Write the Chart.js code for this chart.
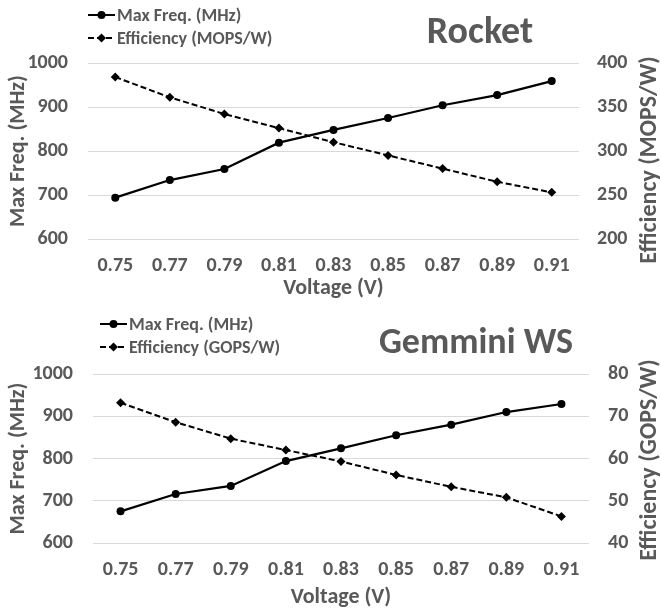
<!DOCTYPE html>
<html lang="en">
<head>
<meta charset="UTF-8">
<title>Rocket / Gemmini WS</title>
<script src="https://cdn.jsdelivr.net/npm/chart.js"></script>
<style>
  body { margin: 0; background: #fff; }
  .panel { position: relative; width: 661px; }
</style>
</head>
<body>
<div class="panel" style="height:305px"><canvas id="rocket"></canvas></div>
<div class="panel" style="height:306px"><canvas id="gemmini"></canvas></div>
<script>
// data
const voltages = ['0.75', '0.77', '0.79', '0.81', '0.83', '0.85', '0.87', '0.89', '0.91'];
const rocketFreq = [694, 734, 759, 819, 848, 875, 904, 927, 959];
const rocketEff = [384, 361, 342, 326, 310, 295, 280, 265, 253];
const gemminiFreq = [675, 716, 735, 794, 824, 855, 880, 910, 929];
const gemminiEff = [73.2, 68.6, 64.7, 62.0, 59.3, 56.1, 53.3, 50.8, 46.3];

const FONT = "Carlito, 'Liberation Sans Narrow', 'DejaVu Sans Condensed', sans-serif";
const GREY = '#595959';

Chart.defaults.font.family = FONT;
Chart.defaults.font.weight = 'bold';
Chart.defaults.color = GREY;

function marker(ctx, style, x, y, r) {
    ctx.beginPath();
    if (style === 'rectRot') {
        ctx.moveTo(x, y - r); ctx.lineTo(x + r, y); ctx.lineTo(x, y + r); ctx.lineTo(x - r, y);
        ctx.closePath();
    } else {
        ctx.arc(x, y, r, 0, Math.PI * 2);
    }
    ctx.fill();
}

// legend stacked on the left, panel name on the right, and the right axis title
// (Chart.js turns a right-hand title the other way round)
const panelDecor = {
    id: 'panelDecor',
    afterDraw(chart, args, opts) {
        const ctx = chart.ctx;
        ctx.save();
        chart.data.datasets.forEach((ds, i) => {
            const y = opts.legendY + i * 23;
            const x0 = opts.legendX, x1 = opts.legendX + 27;
            ctx.strokeStyle = '#000';
            ctx.fillStyle = '#000';
            ctx.lineWidth = 2;
            ctx.setLineDash(ds.borderDash || []);
            ctx.beginPath(); ctx.moveTo(x0, y); ctx.lineTo(x1, y); ctx.stroke();
            ctx.setLineDash([]);
            marker(ctx, ds.pointStyle, (x0 + x1) / 2, y, ds.pointRadius);
            ctx.fillStyle = GREY;
            ctx.font = 'bold 18px ' + FONT;
            ctx.textAlign = 'left';
            ctx.textBaseline = 'middle';
            ctx.fillText(ds.label, x1 + 2, y + 1);
        });
        ctx.font = 'bold ' + opts.titleSize + 'px ' + FONT;
        ctx.fillStyle = GREY;
        ctx.textAlign = 'center';
        ctx.textBaseline = 'middle';
        ctx.fillText(opts.title, opts.titleX, opts.titleY);

        ctx.translate(opts.rightTitleX, opts.rightTitleY);
        ctx.rotate(-Math.PI / 2);
        ctx.font = 'bold 24px ' + FONT;
        ctx.fillText(chart.data.datasets[1].label, 0, 0);
        ctx.restore();
    }
};

function makeChart(id, freq, eff, effLabel, effMin, effMax, effStep, lay) {
    new Chart(document.getElementById(id), {
        type: 'line',
        data: {
            labels: voltages,
            datasets: [{
                label: 'Max Freq. (MHz)',
                data: freq,
                yAxisID: 'y',
                borderColor: '#000',
                backgroundColor: '#000',
                borderWidth: 2.25,
                pointStyle: 'circle',
                pointRadius: 4,
                pointBorderWidth: 0,
                tension: 0
            }, {
                label: effLabel,
                data: eff,
                yAxisID: 'y1',
                borderColor: '#000',
                backgroundColor: '#000',
                borderWidth: 2,
                borderDash: [6, 3],
                pointStyle: 'rectRot',
                pointRadius: 4.5,
                pointBorderWidth: 0,
                tension: 0
            }]
        },
        plugins: [panelDecor],
        options: {
            responsive: true,
            maintainAspectRatio: false,
            animation: false,
            layout: { padding: { top: lay.top, left: 0, right: 0, bottom: 0 } },
            plugins: {
                legend: { display: false },
                tooltip: { enabled: false },
                panelDecor: lay.decor
            },
            scales: {
                x: {
                    offset: true,
                    grid: { display: false },
                    border: { display: false },
                    ticks: { font: { size: 20 }, padding: lay.tickPad, maxRotation: 0 },
                    title: { display: true, text: 'Voltage (V)', font: { size: 22, lineHeight: 1.2 }, padding: { top: 0, bottom: lay.titlePad } },
                    afterFit: s => { s.height = lay.xH; }
                },
                y: {
                    position: 'left',
                    min: 600, max: 1000,
                    ticks: { stepSize: 100, font: { size: 20 }, padding: 20, callback: v => String(v) },
                    grid: { color: '#d9d9d9', lineWidth: 1, drawTicks: false },
                    border: { display: false },
                    title: { display: true, text: 'Max Freq. (MHz)', font: { size: 22, lineHeight: 1.2 }, padding: { top: 5, bottom: 0 } },
                    afterFit: s => { s.width = lay.left; }
                },
                y1: {
                    position: 'right',
                    min: effMin, max: effMax,
                    ticks: { stepSize: effStep, font: { size: 20 }, padding: lay.rightPad, callback: v => String(v) },
                    grid: { drawOnChartArea: false, drawTicks: false },
                    border: { display: false },
                    afterFit: s => { s.width = 661 - lay.right; }
                }
            }
        }
    });
}

makeChart('rocket', rocketFreq, rocketEff, 'Efficiency (MOPS/W)', 200, 400, 50, {
    top: 63, left: 88, right: 579, xH: 66, tickPad: 7, titlePad: 3, rightPad: 18,
    decor: { legendX: 88, legendY: 15, title: 'Rocket', titleSize: 38, titleX: 480, titleY: 33,
             rightTitleX: 650, rightTitleY: 160 }
});
makeChart('gemmini', gemminiFreq, gemminiEff, 'Efficiency (GOPS/W)', 40, 80, 10, {
    top: 69, left: 93, right: 589, xH: 68, tickPad: 7, titlePad: 0, rightPad: 19,
    decor: { legendX: 100, legendY: 19, title: 'Gemmini WS', titleSize: 36, titleX: 476, titleY: 39,
             rightTitleX: 650, rightTitleY: 155 }
});
</script>
</body>
</html>
